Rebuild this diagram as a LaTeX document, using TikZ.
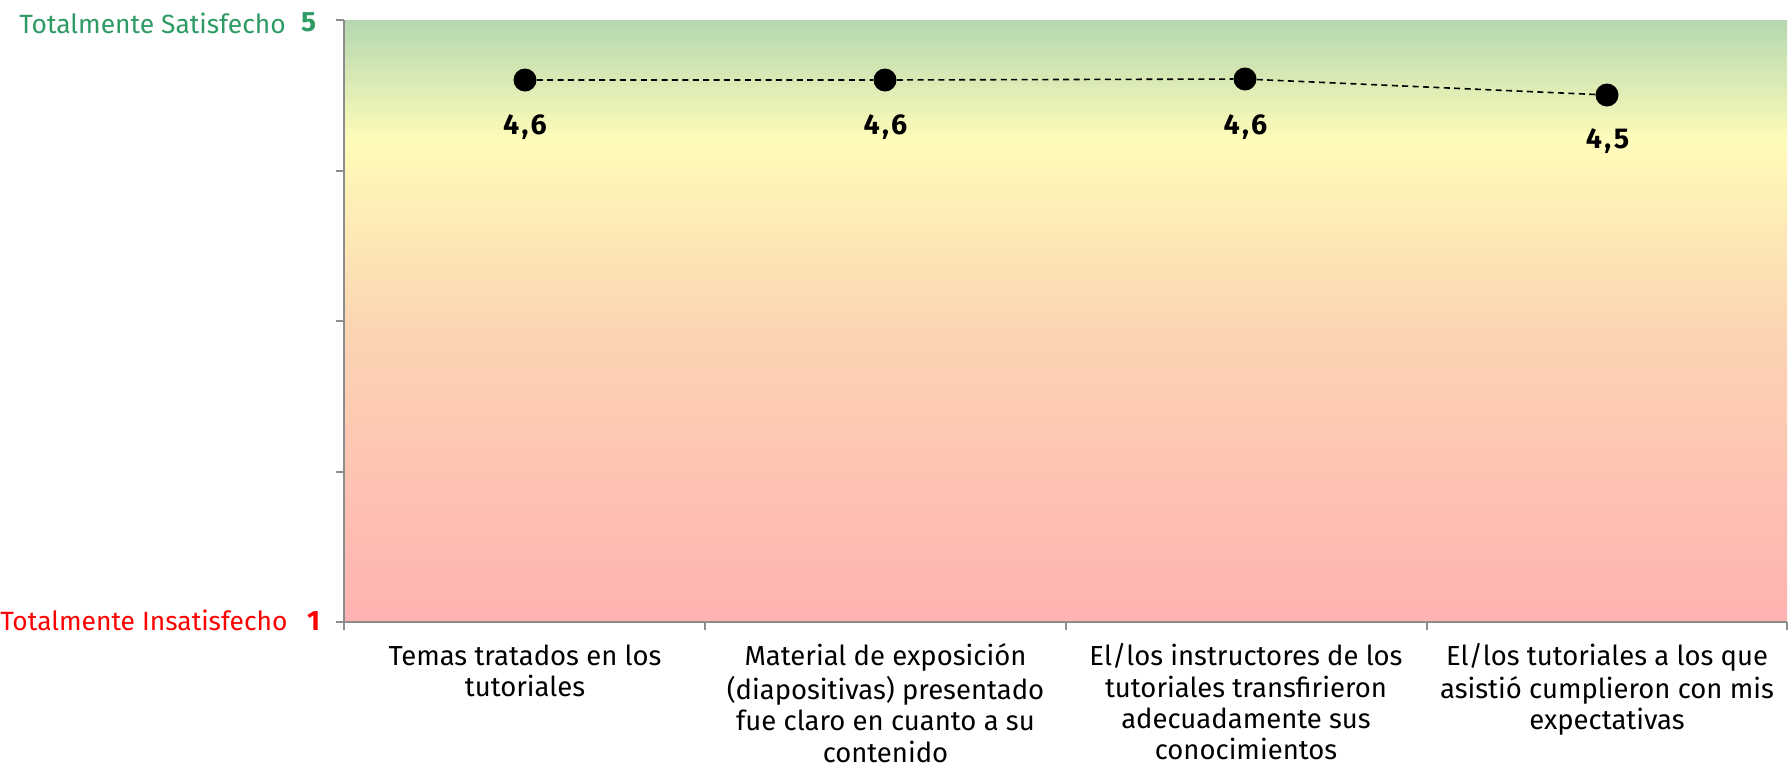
\documentclass[tikz,border=0pt]{standalone}
\usepackage{fontspec}
\setmainfont{Fira Sans}
\definecolor{axisgray}{RGB}{140,140,140}
\definecolor{satgreen}{RGB}{46,155,100}
\definecolor{insred}{RGB}{255,0,0}
\definecolor{bgpink}{RGB}{255,178,178}
\definecolor{bgpeach}{RGB}{252,212,178}
\definecolor{bgyellow}{RGB}{255,252,185}
\definecolor{bggreen}{RGB}{180,215,176}
\pgfdeclareverticalshading{plotbg}{100bp}{color(0bp)=(bgpink); color(25bp)=(bgpink); color(49bp)=(bgpeach); color(65bp)=(bgyellow); color(75bp)=(bggreen); color(100bp)=(bggreen)}
\tikzset{
  axisline/.style={draw=axisgray, line width=1.5pt},
  datapt/.style={circle, fill=black, inner sep=0pt, minimum size=17.25pt},
  dashline/.style={draw=black, line width=1.2pt, dash pattern=on 4.5pt off 3.3pt},
  vallabel/.style={anchor=base, inner sep=0pt, font=\fontsize{21.5}{24}\selectfont\bfseries\addfontfeature{LetterSpace=8}},
  catlabel/.style={anchor=north, inner sep=0pt, align=center, font=\fontsize{20.6}{23.4}\selectfont},
  ylabel/.style={inner sep=0pt, font=\fontsize{19.8}{24}\selectfont},
  ynum/.style={anchor=base, inner sep=0pt, font=\fontsize{21}{24}\selectfont\bfseries},
}
\begin{document}
\begin{tikzpicture}[x=0.75pt,y=-0.75pt]
\useasboundingbox (0,0) rectangle (1791,765);
\shade[shading=plotbg] (344,20) rectangle (1787,622);
% axes
\draw[axisline] (344,20) -- (344,630);
\draw[axisline] (336,622) -- (1787,622);
\foreach \yy in {20,170.5,321,471.5} \draw[axisline] (336,\yy) -- (344,\yy);
\foreach \xx in {705,1066,1427,1787} \draw[axisline] (\xx,622) -- (\xx,630);
% y labels
\node[ylabel, text=satgreen, anchor=base east] (ytop) at (286,33) {Totalmente Satisfecho};
\node[ynum, text=satgreen] (ytopn) at (308.5,31) {5};
\node[ylabel, text=insred, anchor=base west] (ybot) at (0,630) {Totalmente Insatisfecho};
\node[ynum, text=insred] (ybotn) at (313.5,630) {1};
% data
\node[datapt] (p1) at (525,80) {};
\node[datapt] (p2) at (885,80) {};
\node[datapt] (p3) at (1245,79) {};
\node[datapt] (p4) at (1607,95) {};
\draw[dashline] (p1) -- (p2) -- (p3) -- (p4);
\node[vallabel] (l1) at (525,134) {4,6};
\node[vallabel] (l2) at (885.5,134) {4,6};
\node[vallabel] (l3) at (1245.5,134) {4,6};
\node[vallabel] (l4) at (1607.5,148.5) {4,5};
% category labels
\node[catlabel] (c1) at (525,643.5) {\strut Temas tratados en los\\tutoriales};
\node[catlabel] (c2) at (885.5,643.5) {\strut Material de exposición\\(diapositivas) presentado\\fue claro en cuanto a su\\contenido};
\node[catlabel] (c3) at (1246,643.5) {\strut El/los instructores de los\\tutoriales transfirieron\\adecuadamente sus\\conocimientos};
\node[catlabel] (c4) at (1607,643.5) {\strut El/los tutoriales a los que\\asistió cumplieron con mis\\expectativas};
\end{tikzpicture}
\end{document}
